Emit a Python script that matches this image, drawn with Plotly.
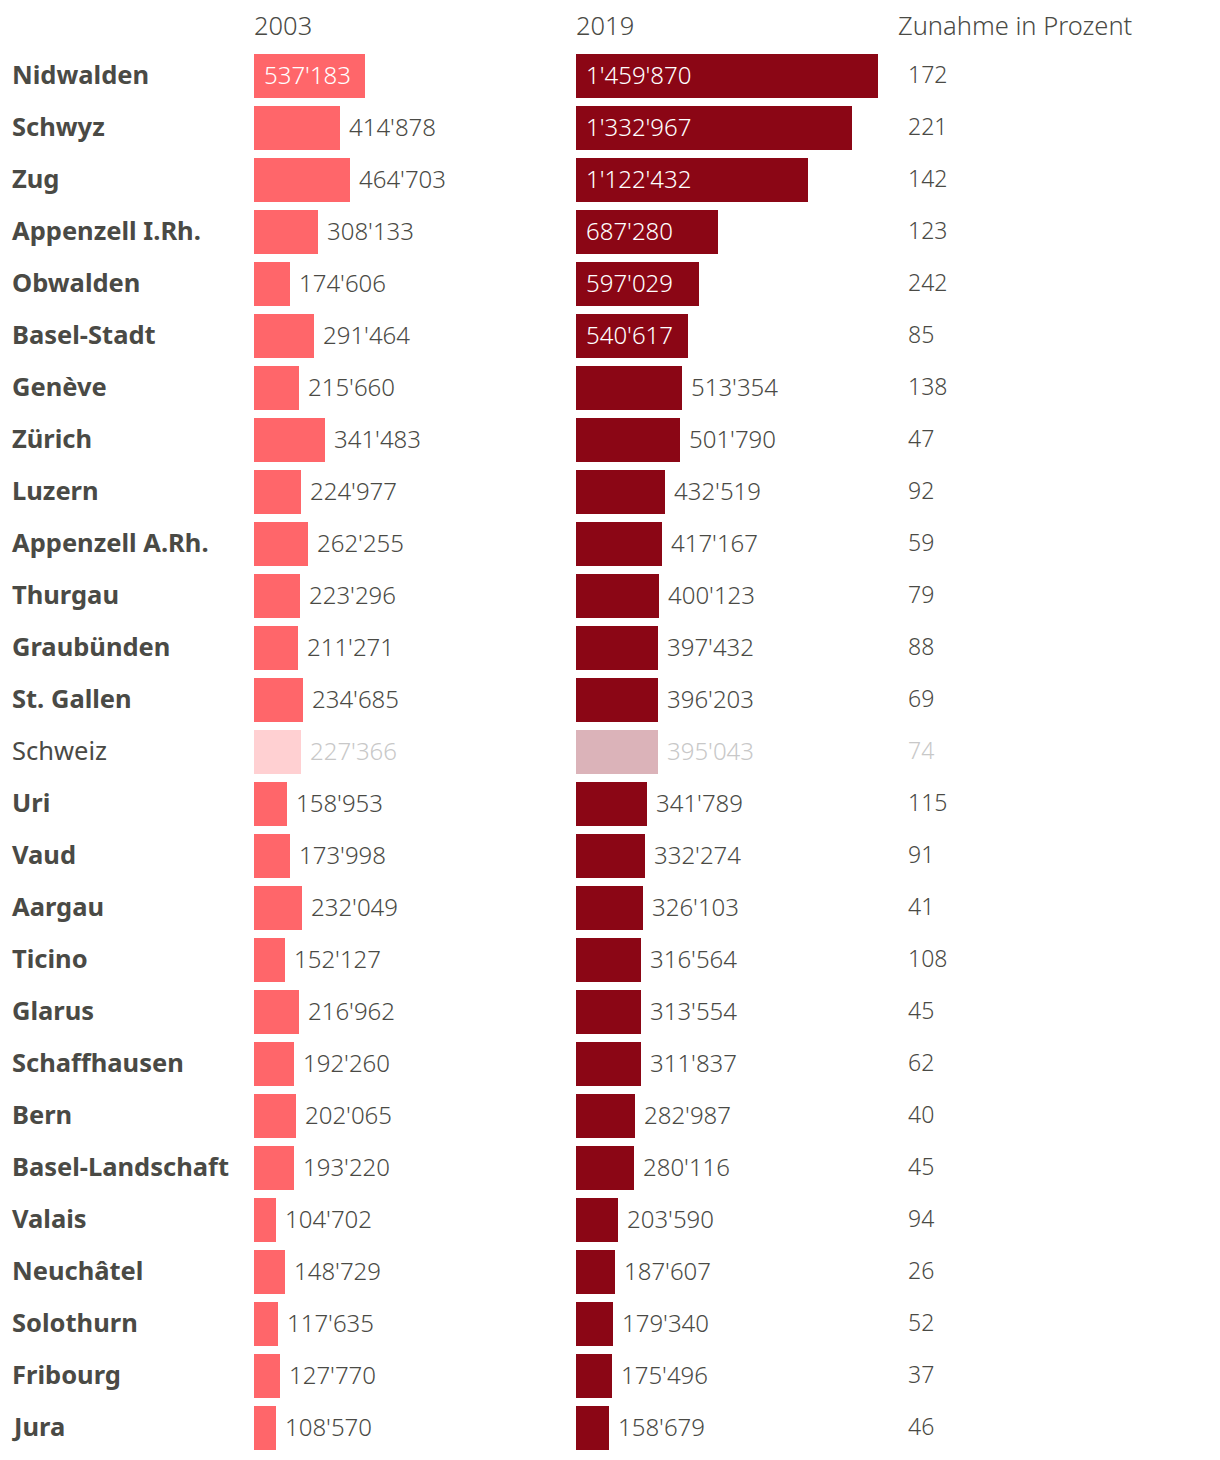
import plotly.graph_objects as go

cantons = ["Nidwalden", "Schwyz", "Zug", "Appenzell I.Rh.", "Obwalden", "Basel-Stadt",
           "Genève", "Zürich", "Luzern", "Appenzell A.Rh.", "Thurgau", "Graubünden",
           "St. Gallen", "Schweiz", "Uri", "Vaud", "Aargau", "Ticino", "Glarus",
           "Schaffhausen", "Bern", "Basel-Landschaft", "Valais", "Neuchâtel",
           "Solothurn", "Fribourg", "Jura"]
values_2003 = [537183, 414878, 464703, 308133, 174606, 291464, 215660, 341483, 224977,
               262255, 223296, 211271, 234685, 227366, 158953, 173998, 232049, 152127,
               216962, 192260, 202065, 193220, 104702, 148729, 117635, 127770, 108570]
values_2019 = [1459870, 1332967, 1122432, 687280, 597029, 540617, 513354, 501790, 432519,
               417167, 400123, 397432, 396203, 395043, 341789, 332274, 326103, 316564,
               313554, 311837, 282987, 280116, 203590, 187607, 179340, 175496, 158679]
increase_pct = [172, 221, 142, 123, 242, 85, 138, 47, 92, 59, 79, 88, 69, 74, 115, 91,
                41, 108, 45, 62, 40, 45, 94, 26, 52, 37, 46]
headers = ["2003", "2019", "Zunahme in Prozent"]
highlight = "Schweiz"

W, H = 1212, 1452          # page has 8px body margin
OX, OY = 8, 8
FONT = "Noto Sans"
TXT = "#4a4a45"
LIGHT = "#c8c8c8"
C1, C1L = "#ff666a", "#ffd0d2"
C2, C2L = "#8b0615", "#dbb3b9"
UNITS_PER_PX = 4835
INSIDE_MIN = 530000
TSHIFT = 2

def px_x(p):
    return (p - OX) / W

def px_y(p):
    return 1 - (p - OY) / H

def fmt(v):
    return f"{v:,}".replace(",", "'")

n = len(cantons)
ys = list(range(n))
fig = go.Figure()

col1 = [C1L if c == highlight else C1 for c in cantons]
col2 = [C2L if c == highlight else C2 for c in cantons]
fig.add_trace(go.Bar(x=values_2003, y=ys, orientation="h", marker=dict(color=col1, line=dict(width=0)),
                     width=44/52, xaxis="x", yaxis="y", hoverinfo="skip"))
fig.add_trace(go.Bar(x=values_2019, y=ys, orientation="h", marker=dict(color=col2, line=dict(width=0)),
                     width=44/52, xaxis="x2", yaxis="y", hoverinfo="skip"))

rng = [0, 306 * UNITS_PER_PX]
y_top, y_bot = 50, 50 + 52 * n

fig.update_layout(
    width=W, height=H, margin=dict(l=0, r=0, t=0, b=0),
    paper_bgcolor="white", plot_bgcolor="white", showlegend=False,
    font=dict(family=FONT, color=TXT, size=24),
    xaxis=dict(domain=[px_x(254), px_x(560)], range=rng, visible=False, fixedrange=True),
    xaxis2=dict(domain=[px_x(576), px_x(882)], range=rng, visible=False, fixedrange=True, anchor="y"),
    yaxis=dict(domain=[px_y(y_bot), px_y(y_top)], range=[n - 0.5, -0.5], visible=False,
               fixedrange=True),
    bargap=0,
)

ann = []
for i, c in enumerate(cantons):
    hl = c == highlight
    ann.append(dict(xref="paper", yref="y", x=px_x(10), y=i, xanchor="left", yanchor="middle",
                    yshift=TSHIFT, text=c if hl else f"<b>{c}</b>", showarrow=False,
                    font=dict(size=25.5, color=TXT, family=FONT)))
    for v, xr in ((values_2003[i], "x"), (values_2019[i], "x2")):
        inside = v >= INSIDE_MIN
        ann.append(dict(xref=xr, yref="y", x=0 if inside else v, y=i, xanchor="left",
                        yanchor="middle", xshift=8 if inside else 7, yshift=TSHIFT, text=fmt(v),
                        showarrow=False,
                        font=dict(size=24, family=FONT, weight=300,
                                  color="white" if inside else (LIGHT if hl else TXT))))
    ann.append(dict(xref="paper", yref="y", x=px_x(906), y=i, xanchor="left", yanchor="middle",
                    yshift=TSHIFT, text=str(increase_pct[i]), showarrow=False,
                    font=dict(size=23, family=FONT, weight=300, color=LIGHT if hl else TXT)))

for h, xp in zip(headers, (252, 574, 896)):
    ann.append(dict(xref="paper", yref="paper", x=px_x(xp), y=px_y(25), xanchor="left",
                    yanchor="middle", text=h, showarrow=False,
                    font=dict(size=25.5, family=FONT, weight=300, color=TXT)))

fig.update_layout(annotations=ann)
fig.write_html("out.html")
